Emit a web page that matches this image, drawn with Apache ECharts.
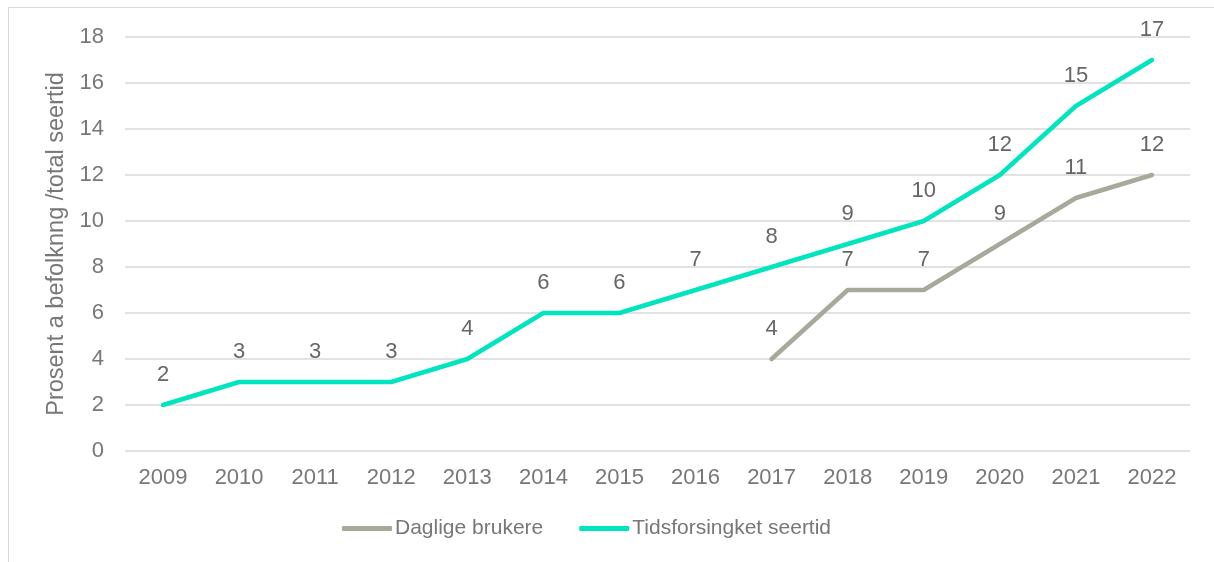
<!DOCTYPE html>
<html>
<head>
<meta charset="utf-8">
<script src="https://cdn.jsdelivr.net/npm/echarts@6/dist/echarts.min.js"></script>
<style>
  html, body { margin: 0; padding: 0; background: #fff; }
  #frame { position: absolute; left: 8px; top: 7px; width: 1220px; height: 570px; border: 1px solid #d9d9d9; box-sizing: border-box; }
  #chart { position: absolute; left: 0; top: 0; width: 1214px; height: 562px; }
</style>
</head>
<body>
<div id="frame"></div>
<div id="chart"></div>
<script>
var years = ['2009','2010','2011','2012','2013','2014','2015','2016','2017','2018','2019','2020','2021','2022'];
var dagligeBrukere = [null, null, null, null, null, null, null, null, 4, 7, 7, 9, 11, 12];
var tidsforsinket = [2, 3, 3, 3, 4, 6, 6, 7, 8, 9, 10, 12, 15, 17];

var myChart = echarts.init(document.getElementById('chart'));
var font = 'Liberation Sans, Arial, sans-serif';
var labelStyle = {
    show: true,
    position: 'top',
    distance: 19,
    fontSize: 22,
    color: '#666666',
    fontFamily: font
};
option = {
    animation: false,
    textStyle: { fontFamily: font },
    grid: {
        left: 125,
        right: 24,
        top: 37,
        bottom: 111
    },
    legend: {
        bottom: 18,
        left: 337,
        icon: 'roundRect',
        itemWidth: 50,
        itemHeight: 5,
        itemGap: 36,
        textStyle: { fontSize: 21, color: '#777777', fontFamily: font, padding: [0, 0, 0, -2] },
        data: ['Daglige brukere', 'Tidsforsingket seertid']
    },
    xAxis: {
        type: 'category',
        data: years,
        boundaryGap: true,
        axisLine: { show: false },
        axisTick: { show: false },
        axisLabel: { fontSize: 22, color: '#777777', margin: 16, fontFamily: font }
    },
    yAxis: {
        type: 'value',
        min: 0,
        max: 18,
        interval: 2,
        name: 'Prosent a befolknng /total seertid',
        nameLocation: 'middle',
        nameGap: 53,
        nameTextStyle: { fontSize: 23.5, color: '#777777', fontFamily: font },
        axisLabel: { fontSize: 22, color: '#777777', margin: 21, fontFamily: font },
        splitLine: { lineStyle: { color: '#d9d9d9', width: 1.5 } }
    },
    series: [
        {
            name: 'Daglige brukere',
            type: 'line',
            data: dagligeBrukere,
            symbol: 'circle',
            symbolSize: 0,
            showSymbol: true,
            lineStyle: { color: '#A8A99B', width: 4.5, cap: 'round' },
            itemStyle: { color: '#A8A99B' },
            label: labelStyle
        },
        {
            name: 'Tidsforsingket seertid',
            type: 'line',
            data: tidsforsinket,
            symbol: 'circle',
            symbolSize: 0,
            showSymbol: true,
            lineStyle: { color: '#00E5BE', width: 4.5, cap: 'round' },
            itemStyle: { color: '#00E5BE' },
            label: labelStyle
        }
    ]
};
myChart.setOption(option);
</script>
</body>
</html>
